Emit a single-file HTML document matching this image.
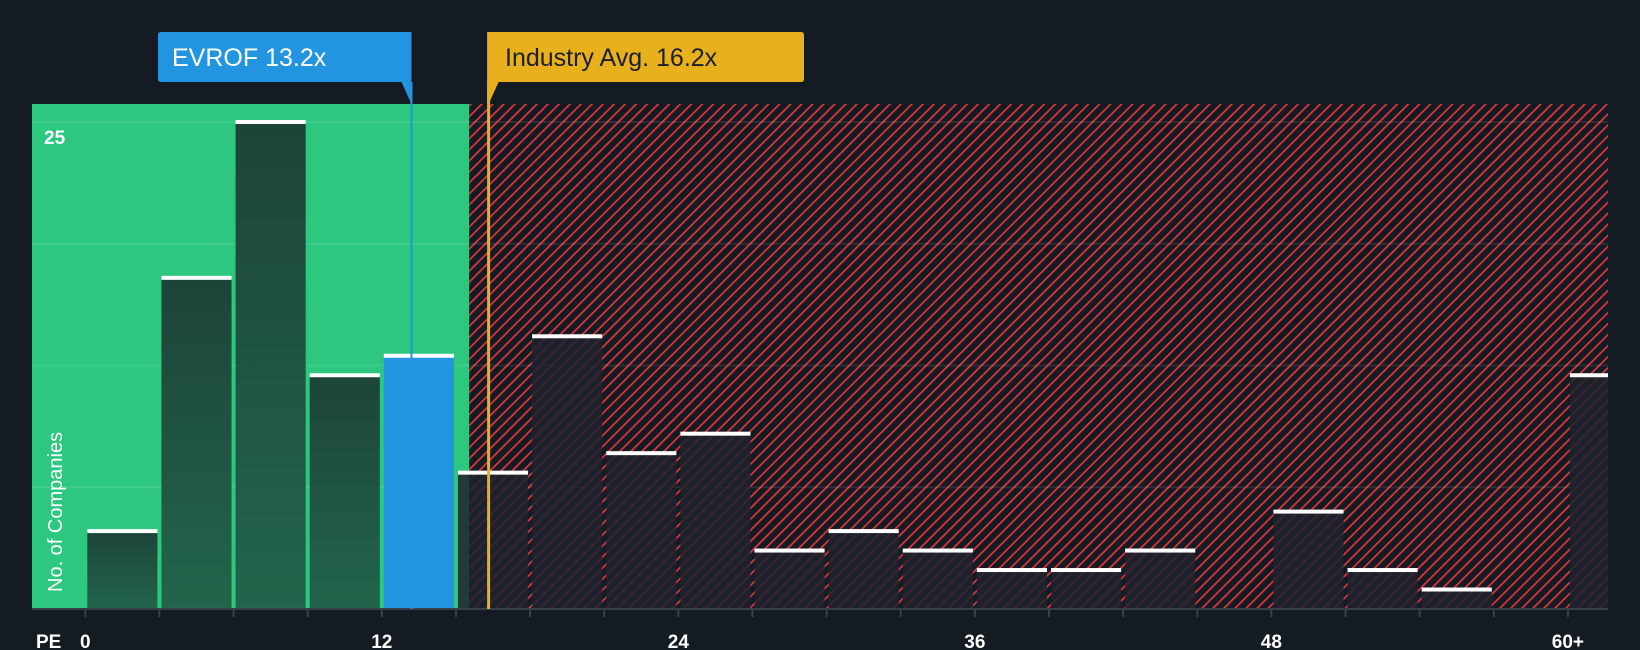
<!DOCTYPE html>
<html><head><meta charset="utf-8"><style>
html,body{margin:0;padding:0;background:#151b23;}
svg{display:block;font-family:"Liberation Sans",sans-serif;}
</style></head><body>
<svg width="1640" height="650" viewBox="0 0 1640 650">
<defs>
<pattern id="hatch" patternUnits="userSpaceOnUse" width="7.8" height="7.8" patternTransform="rotate(45)">
<rect width="7.8" height="7.8" fill="#151b23"/>
<rect x="0" y="0" width="1.7" height="7.8" fill="#e0363f"/>
</pattern>
<linearGradient id="gbar" x1="0" y1="0" x2="0" y2="1"><stop offset="0" stop-color="#1d4439"/><stop offset="1" stop-color="#22654b"/></linearGradient>
</defs>
<rect x="32" y="104" width="437" height="505" fill="#2ec77f"/>
<rect x="469" y="104" width="1139" height="505" fill="url(#hatch)"/>
<g id="grid"></g>
<g id="bars"></g>
<line x1="32" y1="609" x2="1608" y2="609" stroke="#3a4049" stroke-width="2"/>
<g id="ticks"></g>
<text x="44" y="144" fill="#fff" font-size="19" font-weight="bold">25</text>
<text transform="translate(62,592) rotate(-90)" fill="#fff" font-size="20">No. of Companies</text>
<text x="36" y="648" fill="#fff" font-size="19" font-weight="bold">PE</text>
<g id="markers"></g>
</svg>
<script>
const binLabels=["0","3","6","9","12","15","18","21","24","27","30","33","36","39","42","45","48","51","54","57","60+"];
const counts=[4,17,25,12,13,7,14,8,9,3,4,3,2,2,3,0,5,2,1,0,12];
const tickLabels=[0,12,24,36,48];
const companyPE=13.2, industryPE=16.2, companyBin=4, greenEnd=15.5;
const NS="http://www.w3.org/2000/svg";
const x0=85.3, pxPerUnit=24.71, y0=609, yTop=122, yMax=25;
const xs=v=>x0+v*pxPerUnit;
const ys=v=>y0-(y0-yTop)*v/yMax;
function mk(t,a){const e=document.createElementNS(NS,t);for(const k in a)e.setAttribute(k,a[k]);return e;}
const grid=document.getElementById('grid');
for(let i=1;i<=4;i++){const g=mk('line',{x1:32,x2:1608,y1:ys(yMax*i/4),y2:ys(yMax*i/4),stroke:'rgba(255,255,255,0.09)','stroke-width':2});


grid.appendChild(g);}
const bars=document.getElementById('bars');
counts.forEach((c,i)=>{
 if(c<=0)return;
 const xl=xs(i*3)+2, xr=Math.min(xs(i*3+3)-2,1608);
 const inGreen=(i*3+3)<=greenEnd+1;
 let fill=i===companyBin?'#2394e0':(inGreen?'url(#gbar)':'rgba(30,34,45,0.85)');
 const r=mk('rect',{x:xl,y:ys(c),width:xr-xl,height:y0-ys(c),fill:fill});
 
 
 bars.appendChild(r);
 const cap=mk('rect',{x:xl,y:ys(c)-2,width:xr-xl,height:4,fill:'#fff'});
 
 
 bars.appendChild(cap);
});
const ticks=document.getElementById('ticks');
for(let i=0;i<=20;i++){const t=mk('line',{x1:xs(i*3),x2:xs(i*3),y1:609,y2:617,stroke:'#3a4049','stroke-width':2});


ticks.appendChild(t);}
tickLabels.forEach(v=>{const t=mk('text',{x:xs(v),y:648,fill:'#fff','font-size':19,'font-weight':'bold','text-anchor':'middle'});t.textContent=v;


ticks.appendChild(t);});
const lt=mk('text',{x:xs(60),y:648,fill:'#fff','font-size':19,'font-weight':'bold','text-anchor':'middle'});lt.textContent='60+';


ticks.appendChild(lt);
const m=document.getElementById('markers');
const cx=xs(companyPE), ix=xs(industryPE)+3;
const cl=mk('line',{x1:cx,x2:cx,y1:82,y2:y0,stroke:'#2394e0','stroke-width':2});


m.appendChild(cl);
const cb=mk('path',{d:`M158,35 q0,-3 3,-3 L${cx},32 L${cx},104 L${cx-10},82 L161,82 q-3,0 -3,-3 Z`,fill:'#2394e0'});


m.appendChild(cb);
const ct=mk('text',{x:172,y:66,fill:'#fff','font-size':25});ct.textContent='EVROF 13.2x';


m.appendChild(ct);
const il=mk('line',{x1:ix,x2:ix,y1:82,y2:y0,stroke:'#e8b01c','stroke-width':3});


m.appendChild(il);
const ib=mk('path',{d:`M${ix-1.5},32 L801,32 q3,0 3,3 L804,79 q0,3 -3,3 L${ix+10},82 L${ix},104 L${ix-1.5},104 Z`,fill:'#e8b01c'});


m.appendChild(ib);
const it=mk('text',{x:505,y:66,fill:'#1b1f27','font-size':25});it.textContent='Industry Avg. 16.2x';


m.appendChild(it);
</script>
</body></html>
